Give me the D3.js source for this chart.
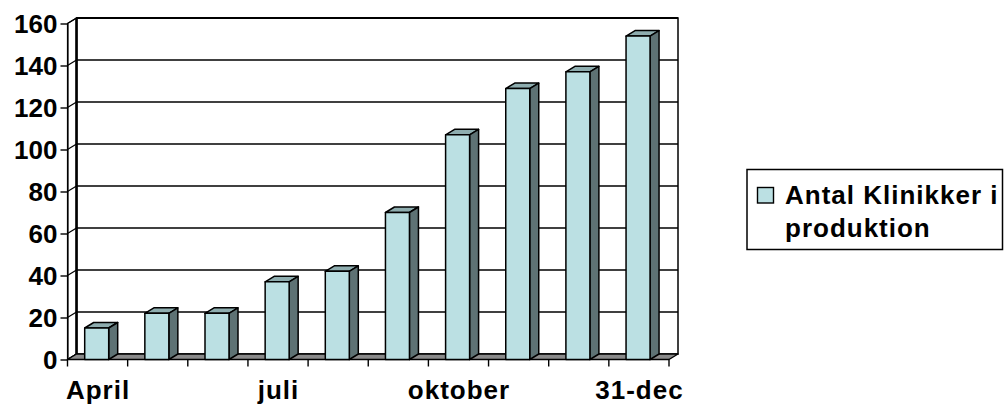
<!DOCTYPE html>
<html>
<head>
<meta charset="utf-8">
<script src="https://cdn.jsdelivr.net/npm/d3@7"></script>
<style>
  html, body { margin: 0; padding: 0; background: #fff; }
  svg { display: block; }
  text { font-family: "Liberation Sans", Arial, sans-serif; font-weight: bold; fill: #000; }
</style>
</head>
<body>
<svg id="chart" width="1004" height="409"></svg>
<script>
// Number of clinics in production per month
const categories = ["April", "maj", "juni", "juli", "august", "september", "oktober", "november", "december", "31-dec"];
const values = [15, 22, 22, 37, 42, 70, 107, 129, 137, 154];
const yTicks = [0, 20, 40, 60, 80, 100, 120, 140, 160];
const shownLabels = ["April", "juli", "oktober", "31-dec"];
const legendLines = ["Antal Klinikker i", "produktion"];

const svg = d3.select("#chart");

// front plane of the 3D box and the depth offset to the back wall
const front = { left: 67.5, right: 669, top: 23.5, bottom: 359.5 };
const depth = { dx: 9, dy: -5.5 };

const x = d3.scaleBand().domain(categories).range([front.left, front.right]).paddingInner(0).paddingOuter(0);
const y = d3.scaleLinear().domain([0, 160]).range([front.bottom, front.top]);

const colors = {
  front: "#bbe0e3",
  top: "#8eadaf",
  side: "#5e7274",
  floor: "#8a8a8a"
};

// back wall
svg.append("rect")
  .attr("x", front.left + depth.dx)
  .attr("y", front.top + depth.dy)
  .attr("width", front.right - front.left)
  .attr("height", front.bottom - front.top)
  .attr("fill", "#fff")
  .attr("stroke", "#000")
  .attr("stroke-width", 1.5);

// gridlines on the back wall
svg.append("g")
  .selectAll("line")
  .data(yTicks.slice(1))
  .join("line")
  .attr("x1", front.left + depth.dx)
  .attr("x2", front.right + depth.dx)
  .attr("y1", d => y(d) + depth.dy)
  .attr("y2", d => y(d) + depth.dy)
  .attr("stroke", "#000")
  .attr("stroke-width", d => d === 160 ? 2 : 1.4);

// left side wall with its diagonal grid lines
svg.append("path")
  .attr("d", d3.line()([
    [front.left, y(160)], [front.left + depth.dx, y(160) + depth.dy],
    [front.left + depth.dx, y(0) + depth.dy], [front.left, y(0)]
  ]) + "Z")
  .attr("fill", "#fff")
  .attr("stroke", "#000")
  .attr("stroke-width", 1.2);

svg.append("g")
  .selectAll("line")
  .data(yTicks)
  .join("line")
  .attr("x1", front.left)
  .attr("y1", d => y(d))
  .attr("x2", front.left + depth.dx)
  .attr("y2", d => y(d) + depth.dy)
  .attr("stroke", "#000")
  .attr("stroke-width", 1.2);

svg.append("line")
  .attr("x1", front.left + depth.dx).attr("x2", front.left + depth.dx)
  .attr("y1", y(160) + depth.dy).attr("y2", y(0) + depth.dy)
  .attr("stroke", "#000").attr("stroke-width", 2.6);

// floor
svg.append("path")
  .attr("d", d3.line()([
    [front.left, y(0)], [front.right, y(0)],
    [front.right + depth.dx, y(0) + depth.dy], [front.left + depth.dx, y(0) + depth.dy]
  ]) + "Z")
  .attr("fill", colors.floor)
  .attr("stroke", "#000")
  .attr("stroke-width", 1.4)
  .attr("stroke-linejoin", "round");

// 3D columns
const barOffset = 17.2;
const barWidth = 24;
const bars = svg.append("g")
  .selectAll("g")
  .data(categories.map((c, i) => ({ c, v: values[i] })))
  .join("g")
  .attr("stroke", "#000")
  .attr("stroke-width", 1.5)
  .attr("stroke-linejoin", "round");

bars.append("path")
  .attr("fill", colors.top)
  .attr("d", d => {
    const x0 = x(d.c) + barOffset, x1 = x0 + barWidth, yt = y(d.v);
    return d3.line()([[x0, yt], [x1, yt], [x1 + depth.dx, yt + depth.dy], [x0 + depth.dx, yt + depth.dy]]) + "Z";
  });

bars.append("path")
  .attr("fill", colors.side)
  .attr("d", d => {
    const x1 = x(d.c) + barOffset + barWidth, yt = y(d.v), yb = y(0);
    return d3.line()([[x1, yt], [x1 + depth.dx, yt + depth.dy], [x1 + depth.dx, yb + depth.dy], [x1, yb]]) + "Z";
  });

bars.append("rect")
  .attr("fill", colors.front)
  .attr("x", d => x(d.c) + barOffset)
  .attr("y", d => y(d.v))
  .attr("width", barWidth)
  .attr("height", d => y(0) - y(d.v));

// value axis
const yAxis = svg.append("g")
  .attr("transform", `translate(${front.left},0)`)
  .call(d3.axisLeft(y).tickValues(yTicks).tickSize(7).tickSizeOuter(0).tickPadding(3));
yAxis.select(".domain").attr("stroke", "#000").attr("stroke-width", 1.2);
yAxis.selectAll(".tick line").attr("stroke", "#000").attr("stroke-width", 1.4);
yAxis.selectAll("text")
  .attr("font-size", 26)
  .attr("font-family", "'Liberation Sans', Arial, sans-serif")
  .attr("font-weight", "bold")
  .attr("fill", "#000")
  .attr("dy", "0.36em");

// category axis: labels centred in bands, tick marks between categories
const xAxis = svg.append("g")
  .attr("transform", `translate(0,${front.bottom})`)
  .call(d3.axisBottom(x).tickValues(shownLabels).tickSize(0).tickSizeOuter(0));
xAxis.select(".domain").remove();
xAxis.selectAll("text")
  .attr("font-size", 26)
  .attr("font-family", "'Liberation Sans', Arial, sans-serif")
  .attr("font-weight", "bold")
  .attr("fill", "#000")
  .attr("letter-spacing", "1px")
  .attr("x", 0.5)
  .attr("y", 39.5)
  .attr("dy", 0);

const boundaries = categories.map(c => x(c)).concat([x(categories[categories.length - 1]) + x.bandwidth()]);
svg.append("g")
  .selectAll("line")
  .data(boundaries)
  .join("line")
  .attr("x1", d => d).attr("x2", d => d)
  .attr("y1", front.bottom).attr("y2", front.bottom + 7)
  .attr("stroke", "#000").attr("stroke-width", 1.4);

// legend
const legend = svg.append("g");
legend.append("rect")
  .attr("x", 747).attr("y", 169.5).attr("width", 255.5).attr("height", 80)
  .attr("fill", "#fff").attr("stroke", "#000").attr("stroke-width", 1.5);
legend.append("rect")
  .attr("x", 757.5).attr("y", 187.5).attr("width", 16).attr("height", 15.5)
  .attr("fill", colors.front).attr("stroke", "#000").attr("stroke-width", 1.4);
legend.selectAll("text.item")
  .data(legendLines)
  .join("text")
  .attr("class", "item")
  .attr("x", 785)
  .attr("y", (d, i) => 203.5 + i * 33)
  .attr("font-size", 26)
  .attr("letter-spacing", "1px")
  .text(d => d);
</script>
</body>
</html>
